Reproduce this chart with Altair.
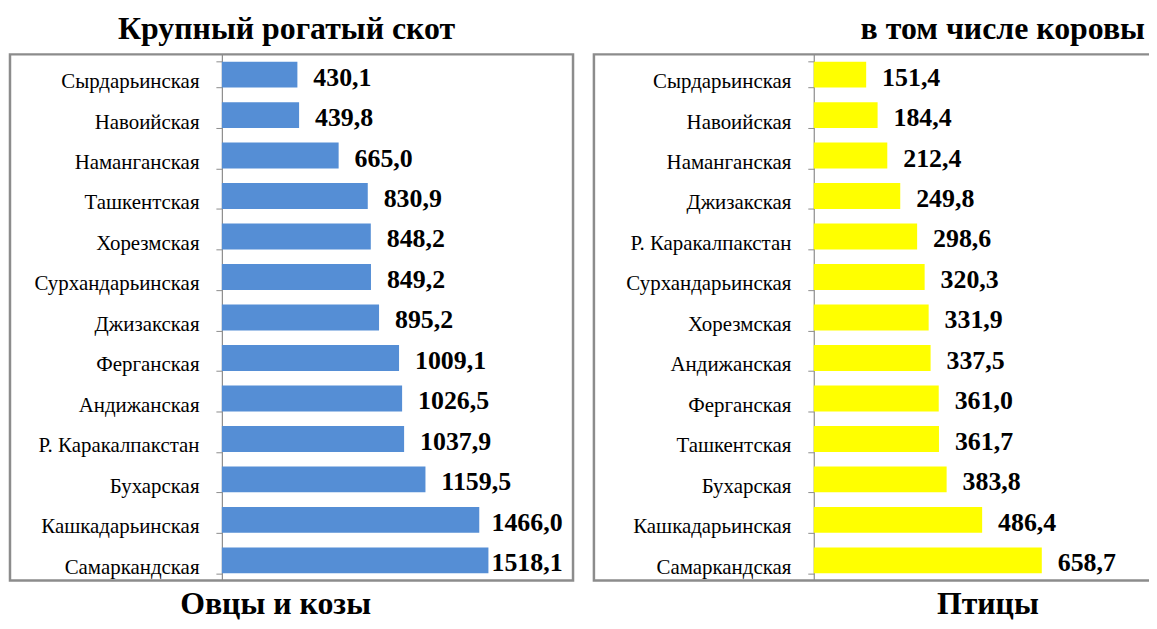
import altair as alt
import pandas as pd

# ---- data ----
cattle_regions = ["Сырдарьинская", "Навоийская", "Наманганская", "Ташкентская", "Хорезмская",
                  "Сурхандарьинская", "Джизакская", "Ферганская", "Андижанская",
                  "Р. Каракалпакстан", "Бухарская", "Кашкадарьинская", "Самаркандская"]
cattle_values = [430.1, 439.8, 665.0, 830.9, 848.2, 849.2, 895.2, 1009.1, 1026.5,
                 1037.9, 1159.5, 1466.0, 1518.1]

cows_regions = ["Сырдарьинская", "Навоийская", "Наманганская", "Джизакская", "Р. Каракалпакстан",
                "Сурхандарьинская", "Хорезмская", "Андижанская", "Ферганская", "Ташкентская",
                "Бухарская", "Кашкадарьинская", "Самаркандская"]
cows_values = [151.4, 184.4, 212.4, 249.8, 298.6, 320.3, 331.9, 337.5, 361.0, 361.7,
               383.8, 486.4, 658.7]

top_titles = ["Крупный рогатый скот", "в том числе коровы"]
bottom_titles = ["Овцы и козы", "Птицы"]

FONT = "Liberation Serif"
H = 529


def panel(regions, values, color, xmax, width, box_left, label_cap, top_title, top_x,
          bottom_title, bottom_x):
    df = pd.DataFrame({"region": regions, "v": values})
    base = alt.Chart(df).transform_calculate(
        lab="replace(format(datum.v, '.1f'), '.', ',')",
        labx="min(datum.v, %f)" % label_cap,
    )
    y = alt.Y("region:N", sort=regions, title=None,
              scale=alt.Scale(paddingInner=0.36, paddingOuter=0.18),
              axis=alt.Axis(labelFont=FONT, labelFontSize=21, labelColor="black",
                            labelPadding=17, labelOffset=7, labelLimit=300,
                            tickBand="extent", tickSize=6, tickColor="#8c8c8c",
                            domainColor="#8c8c8c", domainWidth=1.2, ticks=True,
                            grid=False))
    xs = alt.Scale(domain=[0, xmax], nice=False)
    box = alt.Chart(pd.DataFrame({"a": [0]})).mark_rect(
        fillOpacity=0, stroke="#8c8c8c", strokeWidth=2.5
    ).encode(x=alt.value(box_left), x2=alt.value(width), y=alt.value(0), y2=alt.value(H))
    bars = base.mark_bar(color=color).encode(
        x=alt.X("v:Q", scale=xs, axis=None), y=y)
    labels = base.mark_text(align="left", baseline="middle", dx=16, dy=3, font=FONT,
                            fontSize=26, fontWeight="bold", color="black").encode(
        x=alt.X("labx:Q", scale=xs, axis=None), y=alt.Y("region:N", sort=regions), text="lab:N")
    ttl = alt.Chart(pd.DataFrame({"t": [top_title]})).mark_text(
        font=FONT, fontSize=32, fontWeight="bold", color="black", align="center",
        baseline="middle").encode(text="t:N", x=alt.value(top_x), y=alt.value(-25))
    btl = alt.Chart(pd.DataFrame({"t": [bottom_title]})).mark_text(
        font=FONT, fontSize=32, fontWeight="bold", color="black", align="center",
        baseline="middle").encode(text="t:N", x=alt.value(bottom_x), y=alt.value(H + 24))
    return alt.layer(box, bars, labels, ttl, btl).properties(width=width, height=H)


left = panel(cattle_regions, cattle_values, "#558ED5", 2000, 353, -213, 1445,
             top_titles[0], 65, bottom_titles[0], 54)
right = panel(cows_regions, cows_values, "#FFFF00", 1000, 348, -221, 100000,
              top_titles[1], 190, bottom_titles[1], 175)

chart = alt.hconcat(left, right, spacing=17).properties(
    padding={"left": 0, "top": 4, "right": -13, "bottom": 0}
).configure_view(strokeWidth=0).resolve_scale(x="independent", y="independent")

chart.save("out.html", embed_options={"renderer": "svg", "actions": False})
